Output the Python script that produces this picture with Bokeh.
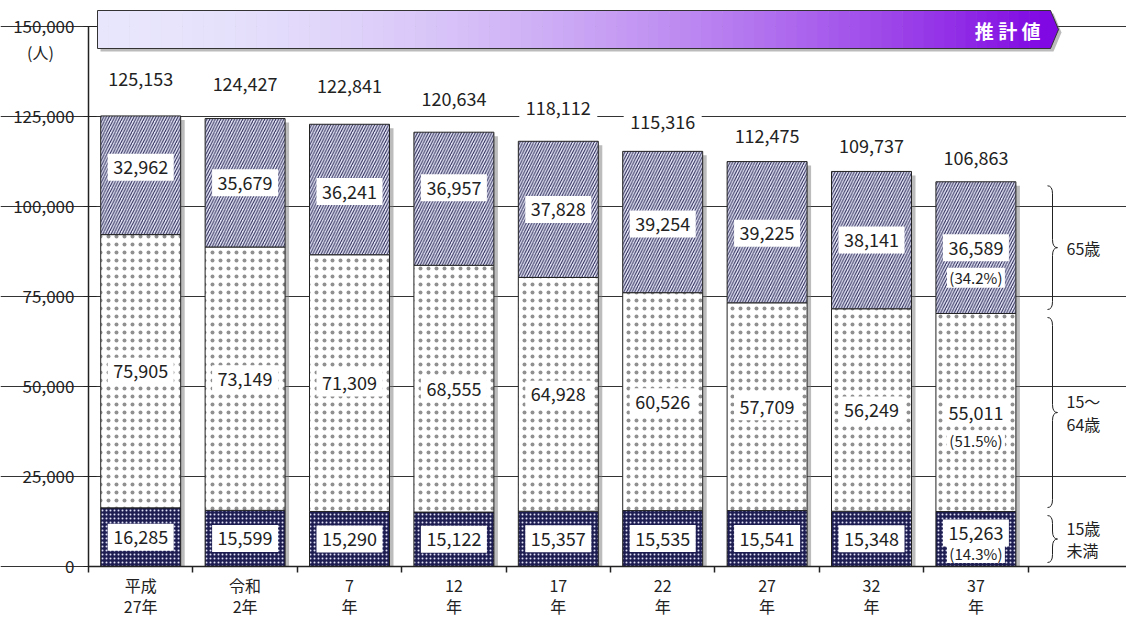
from bokeh.plotting import figure
from bokeh.models import Range1d, FixedTicker, NumeralTickFormatter
from bokeh.core.properties import value
from bokeh.embed import file_html
from bokeh.resources import INLINE

# ---------------- data ----------------
categories = ["平成\n27年", "令和\n2年", "7\n年", "12\n年", "17\n年", "22\n年", "27\n年", "32\n年", "37\n年"]
young = [16285, 15599, 15290, 15122, 15357, 15535, 15541, 15348, 15263]      # 15歳未満
working = [75905, 73149, 71309, 68555, 64928, 60526, 57709, 56249, 55011]    # 15～64歳
elderly = [32962, 35679, 36241, 36957, 37828, 39254, 39225, 38141, 36589]    # 65歳以上
totals = [125153, 124427, 122841, 120634, 118112, 115316, 112475, 109737, 106863]
share_last = ["(14.3%)", "(51.5%)", "(34.2%)"]
y_ticks = [0, 25000, 50000, 75000, 100000, 125000, 150000]
age_groups = ["15歳\n未満", "15～\n64歳", "65歳"]
banner_text = "推 計 値"
unit_text = "(人)"

# ---------------- styling / layout constants ----------------
FONT = value("Noto Sans CJK JP")
TXT = "#222222"
PX_X = 104.4                 # pixels per category
PX_Y = 0.0036                # pixels per person
UPP = 1 / PX_Y               # data units per pixel (y)
UPX = 1 / PX_X               # data units per pixel (x)
W, H = 1126, 621
AX_X, AX_Y = 88, 566         # pixel position of the axes corner
X0 = -0.5 - AX_X * UPX
X1 = X0 + W * UPX
Y1 = AX_Y * UPP
Y0 = Y1 - H * UPP
BAR_W = 0.766
n = len(categories)
xs = list(range(n))


def px(xp):
    return -0.5 + (xp - AX_X) * UPX


def py(yp):
    return (AX_Y - yp) * UPP


total_off_px = [37, 35, 38, 33, 33, 29, 26, 25, 24]
eld_off_px = [8, 0, -2, 11, 0, -2, -1, 0, 0]

p = figure(width=W, height=H,
           x_range=Range1d(X0, X1), y_range=Range1d(Y0, Y1),
           output_backend="svg", toolbar_location=None,
           min_border_left=0, min_border_right=0, min_border_top=0, min_border_bottom=0,
           outline_line_color=None, background_fill_color="white")

# grid
p.xgrid.visible = False
p.ygrid.ticker = FixedTicker(ticks=y_ticks)
p.ygrid.bounds = (-0.5, X1)
p.ygrid.grid_line_color = "#333333"
p.ygrid.grid_line_width = 1

# y axis
yax = p.yaxis[0]
yax.fixed_location = -0.5
yax.ticker = FixedTicker(ticks=y_ticks)
yax.formatter = NumeralTickFormatter(format="0,0")
yax.bounds = (0, 150000)
yax.axis_line_color = TXT
yax.axis_line_width = 1.5
yax.major_tick_in = 8
yax.major_tick_out = 5
yax.major_tick_line_color = TXT
yax.minor_tick_line_color = None
yax.major_label_text_font = "Noto Sans CJK JP"
yax.major_label_text_font_size = "17px"
yax.major_label_text_color = TXT
yax.major_label_standoff = 9

# x axis
xax = p.xaxis[0]
xax.fixed_location = 0
xax.bounds = (-0.5, X1)
xax.ticker = FixedTicker(ticks=xs, minor_ticks=[i - 0.5 for i in range(n + 1)])
xax.major_label_overrides = {i: c for i, c in enumerate(categories)}
xax.axis_line_color = TXT
xax.axis_line_width = 1.5
xax.major_tick_in = 0
xax.major_tick_out = 0
xax.minor_tick_in = 0
xax.minor_tick_out = 6
xax.minor_tick_line_color = TXT
xax.minor_tick_line_width = 1.5
xax.major_label_text_font = "Noto Sans CJK JP"
xax.major_label_text_font_size = "16px"
xax.major_label_text_color = TXT
xax.major_label_text_line_height = 0.9
xax.major_label_standoff = 0

# stacked positions
t1 = young[:]
t2 = [a + b for a, b in zip(young, working)]
t3 = [a + b + c for a, b, c in zip(young, working, elderly)]

# bar shadows
p.vbar(x=[x + 4 * UPX for x in xs], bottom=0, top=[t - 4 * UPP for t in t3], width=BAR_W,
       fill_color="#7a7a7a", fill_alpha=0.5, line_color=None)

# bars
p.vbar(x=xs, bottom=0, top=t1, width=BAR_W, fill_color="#1e1e52",
       hatch_pattern="dot", hatch_color="#e0e0f6", hatch_scale=4, hatch_weight=1,
       line_color=TXT, line_width=1)
p.vbar(x=xs, bottom=t1, top=t2, width=BAR_W, fill_color="white",
       hatch_pattern="dot", hatch_color="#222222", hatch_scale=8, hatch_weight=0.6,
       hatch_alpha=0.5, line_color=TXT, line_width=1)
p.vbar(x=xs, bottom=t2, top=t3, width=BAR_W, fill_color="#e6e6f8",
       hatch_pattern="right_diagonal_line", hatch_color="#222250", hatch_scale=5.5, hatch_weight=1.0,
       line_color=TXT, line_width=1)

# value labels
y_young = [t / 2 for t in t1]
y_work = [(b + t) / 2 for b, t in zip(t1, t2)]
y_eld = [(b + t) / 2 + o * UPP for b, t, o in zip(t2, t3, eld_off_px)]
y_young[-1] = y_young[-1] + 6 * UPP


def boxed(xv, yv, texts, w=66, h=27, size="18px"):
    p.rect(x=xv, y=yv, width=w, height=h, width_units="screen", height_units="screen",
           fill_color="white", line_color=None)
    p.text(x=xv, y=yv, text=texts, text_align="center", text_baseline="middle",
           text_font=FONT, text_font_size=size, text_color=TXT)


fmt = lambda v: f"{v:,}"
boxed(xs, y_young, [fmt(v) for v in young])
boxed(xs, y_work, [fmt(v) for v in working])
boxed(xs, y_eld, [fmt(v) for v in elderly])

# shares on last bar
last = n - 1
share_y = [y_young[-1] - 20 * UPP, y_work[-1] - 28 * UPP, y_eld[-1] - 30 * UPP]
boxed([last] * 3, share_y, share_last, w=58, h=20, size="15px")

# totals
y_tot = [t + o * UPP for t, o in zip(totals, total_off_px)]
boxed(xs, y_tot, [fmt(v) for v in totals], w=78, h=22)

# braces
XB0, XBM, XBT = px(1047), px(1052), px(1057)
R = 8 * UPP
bounds = [(0, t1[last]), (t1[last], t2[last]), (t2[last], t3[last])]
for (lo, hi), lab in zip(bounds, age_groups):
    top = hi - 4 * UPP
    bot = lo + 4 * UPP
    mid = (top + bot) / 2
    p.quadratic(x0=[XB0, XBM, XBT, XBM], y0=[top, mid + R, mid, bot + R],
                x1=[XBM, XBT, XBM, XB0], y1=[top - R, mid, mid - R, bot],
                cx=[XBM, XBM, XBM, XBM], cy=[top, mid, mid, bot],
                line_color=TXT, line_width=1)
    p.segment(x0=[XBM, XBM], y0=[top - R, mid - R], x1=[XBM, XBM], y1=[mid + R, bot + R],
              line_color=TXT, line_width=1)
    p.text(x=[px(1066)], y=[mid], text=[lab], text_align="left", text_baseline="middle",
           text_font=FONT, text_font_size="16px", text_color=TXT, text_line_height=0.95)

# banner (gradient simulated by strips)
BL, BR, BT_ = px(97), px(1050), px(1058)
B_TOP, B_BOT = py(10), py(48)
B_MID = (B_TOP + B_BOT) / 2
c0 = (232, 230, 252)
c1 = (128, 8, 226)
NS = 90
sdx, sdy = 3 * UPX, 3 * UPP
p.patch(x=[BL + sdx, BR + sdx, BT_ + sdx, BR + sdx, BL + sdx],
        y=[B_TOP - sdy, B_TOP - sdy, B_MID - sdy, B_BOT - sdy, B_BOT - sdy],
        fill_color="#777777", fill_alpha=0.5, line_color=None)
lefts, rights, cols = [], [], []
for k in range(NS):
    t = k / (NS - 1)
    tt = t ** 1.8
    col = "#%02x%02x%02x" % tuple(int(round(a + (b - a) * tt)) for a, b in zip(c0, c1))
    lefts.append(BL + (BR - BL) * k / NS)
    rights.append(BL + (BR - BL) * (k + 1) / NS + 0.005)
    cols.append(col)
p.quad(left=lefts, right=rights, bottom=B_BOT, top=B_TOP, fill_color=cols, line_color=None)
p.patch(x=[BR, BT_, BR], y=[B_TOP, B_MID, B_BOT], fill_color=cols[-1], line_color=None)
p.patch(x=[BL, BR, BT_, BR, BL], y=[B_TOP, B_TOP, B_MID, B_BOT, B_BOT],
        fill_color=None, line_color="#333333", line_width=1)
p.text(x=[px(1040)], y=[B_MID - 1 * UPP], text=[banner_text], text_align="right",
       text_baseline="middle", text_font=FONT, text_font_size="19px", text_font_style="bold",
       text_color="white")

# unit label
p.text(x=[px(40)], y=[py(51)], text=[unit_text], text_align="center",
       text_baseline="middle", text_font=FONT, text_font_size="16px", text_color=TXT)

open("out.html", "w").write(file_html(p, INLINE))
